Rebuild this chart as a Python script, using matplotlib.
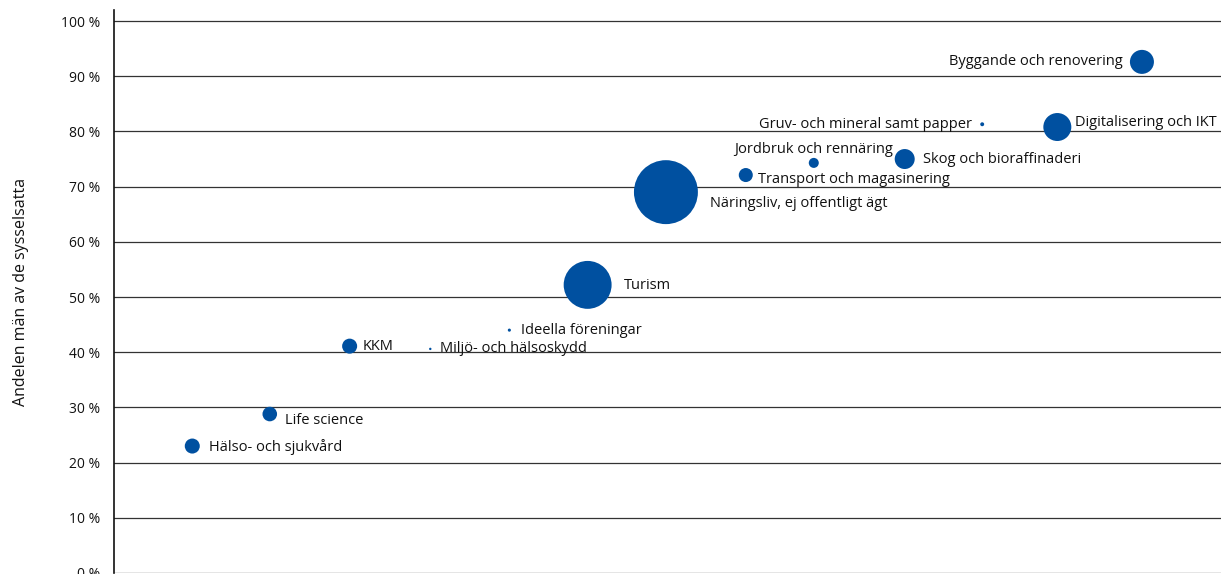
import matplotlib
matplotlib.use("Agg")
import matplotlib.pyplot as plt
from matplotlib.ticker import FuncFormatter

# ==========================
# DATA
# ==========================
branscher = [
    "Hälso- och sjukvård", "Life science", "KKM", "Miljö- och hälsoskydd",
    "Ideella föreningar", "Turism", "Näringsliv, ej offentligt ägt",
    "Transport och magasinering", "Jordbruk och rennäring",
    "Skog och bioraffinaderi", "Gruv- och mineral samt papper",
    "Digitalisering och IKT", "Byggande och renovering",
]
x_pos = [0.99, 1.97, 2.98, 4.0, 5.0, 5.99, 6.98, 7.99, 8.85, 10.0, 10.98, 11.93, 13.0]
andel_man = [23.0, 28.8, 41.1, 40.6, 44.0, 52.2, 69.0, 72.1, 74.3, 75.0, 81.3, 80.8, 92.6]
storlek = [117, 110, 117, 3, 5, 1190, 2120, 102, 52, 207, 8, 406, 299]

# label offsets (points) and alignment
offsets = [
    (12, -1, "left"), (11, -4.5, "left"), (9.4, -0.5, "left"), (7, 0.5, "left"),
    (8.6, -0.5, "left"), (26, -0.5, "left"), (32, -8, "left"), (8.6, -3, "left"),
    (57, 9.5, "right"), (13, -0.5, "left"), (-7, 0, "right"), (13, 3, "left"),
    (-14, 0, "right"),
]

BLUE = "#0050a0"
plt.rcParams["font.family"] = ["Open Sans", "DejaVu Sans"]

fig = plt.figure(figsize=(12.27, 5.74), dpi=100)
ax = fig.add_axes([114 / 1227, 1 / 574, 1107 / 1227, 563 / 574])

ax.scatter(x_pos, andel_man, s=storlek, color=BLUE, edgecolors="none", zorder=3)

for name, x, y, (dx, dy, ha) in zip(branscher, x_pos, andel_man, offsets):
    ax.annotate(name, (x, y), xytext=(dx, dy), textcoords="offset points",
                ha=ha, va="center", fontsize=10.5, color="#111111", zorder=4)

ax.set_xlim(0, 14)
ax.set_ylim(0, 102)
ax.set_yticks(range(0, 101, 10))
ax.yaxis.set_major_formatter(FuncFormatter(lambda v, p: f"{int(v)} %"))
ax.set_xticks([])
ax.tick_params(axis="y", length=0, pad=10, labelsize=10, labelcolor="#111111")
ax.yaxis.grid(True, color="#333333", linewidth=0.9)
ax.set_axisbelow(True)

for side in ["top", "right", "bottom"]:
    ax.spines[side].set_visible(False)
ax.spines["left"].set_color("#111111")
ax.spines["left"].set_linewidth(1.2)

ax.set_ylabel("Andelen män av de sysselsatta", fontsize=11.5, color="#111111", labelpad=23)

fig.savefig("out.png", dpi=100)
